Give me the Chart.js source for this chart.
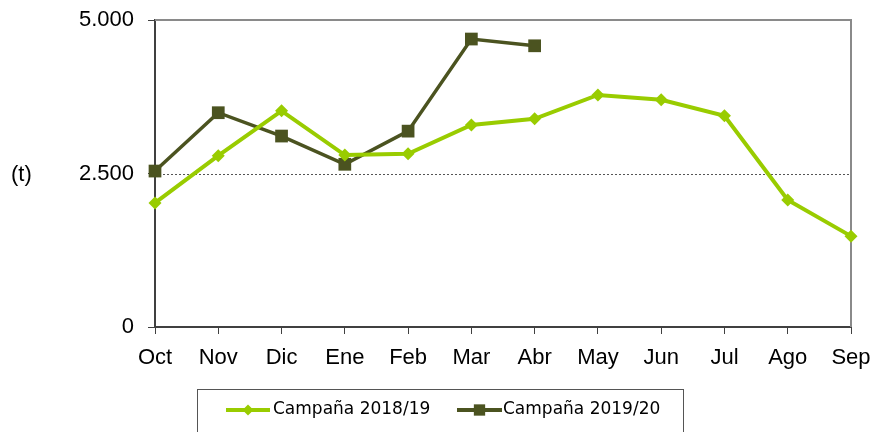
<!DOCTYPE html>
<html>
<head>
<meta charset="utf-8">
<script src="https://cdn.jsdelivr.net/npm/chart.js@4/dist/chart.umd.min.js"></script>
<style>
  html, body { margin: 0; padding: 0; background: #fff; }
  #wrap { width: 873px; height: 432px; position: relative; }
</style>
</head>
<body>
<div id="wrap"><canvas id="grafico" width="873" height="432"></canvas></div>
<script>
/* Datos */
const MESES = ["Oct","Nov","Dic","Ene","Feb","Mar","Abr","May","Jun","Jul","Ago","Sep"];
const CAMPANA_1819 = [2020, 2790, 3520, 2800, 2820, 3290, 3390, 3780, 3700, 3440, 2070, 1480];
const CAMPANA_1920 = [2540, 3490, 3110, 2650, 3190, 4690, 4580, null, null, null, null, null];
const NOMBRES = ["Campaña 2018/19", "Campaña 2019/20"];
const Y_TICKS = [0, 2500, 5000];

const VERDE = "#99CC00";
const OLIVA = "#4B5320";

function fmtMiles(v) {
    return String(v).replace(/\B(?=(\d{3})+(?!\d))/g, ".");
}

/* Bordes, línea 2.500 punteada, "(t)" y leyenda */
const extras = {
    id: "extras",
    beforeDatasetsDraw(chart) {
        const { ctx, chartArea: a, scales } = chart;
        ctx.save();
        // línea de 2.500
        const y = Math.round(scales.y.getPixelForValue(2500)) + 0.5;
        ctx.strokeStyle = "#555";
        ctx.lineWidth = 1;
        ctx.setLineDash([2, 2]);
        ctx.beginPath();
        ctx.moveTo(a.left, y);
        ctx.lineTo(a.right, y);
        ctx.stroke();
        ctx.setLineDash([]);
        // borde superior y derecho gris
        ctx.strokeStyle = "#8a8a8a";
        ctx.lineWidth = 2;
        ctx.beginPath();
        ctx.moveTo(a.left, a.top);
        ctx.lineTo(a.right, a.top);
        ctx.lineTo(a.right, a.bottom);
        ctx.stroke();
        ctx.restore();
    },
    afterDraw(chart) {
        const { ctx, chartArea: a } = chart;
        ctx.save();
        // unidad
        ctx.fillStyle = "#000";
        ctx.font = "22px 'Liberation Sans', Arial, sans-serif";
        ctx.textAlign = "left";
        ctx.textBaseline = "middle";
        ctx.fillText("(t)", 11, (a.top + a.bottom) / 2 + 1);

        // caja de leyenda
        ctx.strokeStyle = "#555";
        ctx.lineWidth = 1;
        ctx.strokeRect(197.5, 389.5, 486, 50);

        const items = [
            { x0: 226, x1: 270, col: VERDE, estilo: "rectRot", r: 5.5, w: 4, tx: 273 },
            { x0: 457, x1: 502, col: OLIVA, estilo: "rect", r: 8, w: 4, tx: 503 }
        ];
        const yl = 410;
        ctx.font = "17px 'DejaVu Sans', sans-serif";
        items.forEach((it, i) => {
            ctx.strokeStyle = it.col;
            ctx.lineWidth = it.w;
            ctx.beginPath();
            ctx.moveTo(it.x0, yl);
            ctx.lineTo(it.x1, yl);
            ctx.stroke();
            ctx.fillStyle = it.col;
            Chart.helpers.drawPoint(ctx, { pointStyle: it.estilo, radius: it.r, borderWidth: 0 }, (it.x0 + it.x1) / 2, yl);
            ctx.fillStyle = "#000";
            ctx.textBaseline = "middle";
            ctx.fillText(NOMBRES[i], it.tx, yl);
        });
        ctx.restore();
    }
};

new Chart(document.getElementById("grafico"), {
    type: "line",
    data: {
        labels: MESES,
        datasets: [
            {
                label: NOMBRES[0],
                data: CAMPANA_1819,
                borderColor: VERDE,
                backgroundColor: VERDE,
                borderWidth: 4,
                pointStyle: "rectRot",
                pointRadius: 6.5,
                pointBorderWidth: 0,
                pointBackgroundColor: VERDE,
                tension: 0,
                clip: false
            },
            {
                label: NOMBRES[1],
                data: CAMPANA_1920,
                borderColor: OLIVA,
                backgroundColor: OLIVA,
                borderWidth: 3.5,
                pointStyle: "rect",
                pointRadius: 9,
                pointBorderWidth: 0,
                pointBackgroundColor: OLIVA,
                tension: 0,
                spanGaps: false,
                clip: false
            }
        ]
    },
    options: {
        responsive: false,
        animation: false,
        maintainAspectRatio: false,
        devicePixelRatio: 1,
        layout: { padding: { top: 20, right: 22, left: 0, bottom: 0 } },
        plugins: { legend: { display: false }, tooltip: { enabled: false } },
        scales: {
            x: {
                offset: false,
                afterFit: (s) => { s.height = 105; s.paddingLeft = 0; s.paddingRight = 0; },
                grid: { drawOnChartArea: false, drawTicks: true, tickLength: 7, tickColor: "#404040", tickWidth: 1 },
                border: { color: "#404040", width: 2 },
                ticks: { color: "#000", font: { family: "'Liberation Sans', Arial, sans-serif", size: 22 }, padding: 11, maxRotation: 0, autoSkip: false }
            },
            y: {
                min: 0,
                max: 5000,
                afterFit: (s) => { s.width = 155; s.paddingTop = 0; s.paddingBottom = 0; },
                afterBuildTicks: (s) => { s.ticks = Y_TICKS.map(v => ({ value: v })); },
                grid: { drawOnChartArea: false, drawTicks: true, tickLength: 7, tickColor: "#404040", tickWidth: 1 },
                border: { color: "#404040", width: 2 },
                ticks: { color: "#000", font: { family: "'Liberation Sans', Arial, sans-serif", size: 22 }, padding: 14, callback: (v) => fmtMiles(v) }
            }
        }
    },
    plugins: [extras]
});
</script>
</body>
</html>
